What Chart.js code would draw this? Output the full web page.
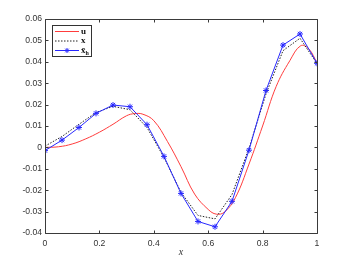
<!DOCTYPE html>
<html>
<head>
<meta charset="utf-8">
<script src="https://cdn.jsdelivr.net/npm/chart.js@4.4.0/dist/chart.umd.min.js"></script>
<style>
html,body{margin:0;padding:0;background:#fff;}
#wrap{width:350px;height:263px;position:relative;}
</style>
</head>
<body>
<div id="wrap"><canvas id="c" width="350" height="263"></canvas></div>
<script>
// ---- data ----
const gridX = [0, 0.0625, 0.125, 0.1875, 0.25, 0.3125, 0.375, 0.4375, 0.5, 0.5625, 0.625, 0.6875, 0.75, 0.8125, 0.875, 0.9375, 1];
const xhValues = [-0.0015, 0.0034, 0.0093, 0.0159, 0.0198, 0.0190, 0.0106, -0.0042, -0.0215, -0.0346, -0.0371, -0.0252, -0.0013, 0.0266, 0.0478, 0.0530, 0.0393];
const xValues = [0.0006, 0.0051, 0.0108, 0.0163, 0.0192, 0.0176, 0.0093, -0.0047, -0.0210, -0.0318, -0.0334, -0.0220, -0.0004, 0.0250, 0.0452, 0.0510, 0.0392];
const uX = [0, 0.05, 0.1, 0.15, 0.2, 0.25, 0.3, 0.33, 0.36, 0.4, 0.45, 0.5, 0.55, 0.6, 0.63, 0.66, 0.7, 0.75, 0.8, 0.85, 0.9, 0.94, 0.97, 1];
const uValues = [0, 0.0003, 0.0016, 0.0040, 0.0071, 0.0108, 0.0148, 0.0158, 0.0155, 0.0125, 0.0028, -0.0090, -0.0218, -0.0290, -0.0312, -0.0302, -0.0235, -0.0078, 0.0100, 0.0285, 0.0405, 0.0475, 0.0460, 0.0395];
const xTickValues = [0, 0.2, 0.4, 0.6, 0.8, 1];
const xTickLabels = ['0', '0.2', '0.4', '0.6', '0.8', '1'];
const yTickValues = [-0.04, -0.03, -0.02, -0.01, 0, 0.01, 0.02, 0.03, 0.04, 0.05, 0.06];
const yTickLabels = ['-0.04', '-0.03', '-0.02', '-0.01', '0', '0.01', '0.02', '0.03', '0.04', '0.05', '0.06'];
const legendLabels = ['u', 'x', 'x\u0304'];
const xAxisTitle = 'x';

const zip = (xs, ys) => xs.map((x, i) => ({x: x, y: ys[i]}));

const AXIS_COLOR = '#3a3a3a';
const RED = 'rgb(255,60,60)';
const BLUE = 'rgb(40,40,255)';
const BLACK = '#222';

const boxTicksPlugin = {
  id: 'boxTicks',
  afterDatasetsDraw(chart) {
    const ctx = chart.ctx, a = chart.chartArea;
    const xs = chart.scales.x, ys = chart.scales.y;
    ctx.save();
    ctx.strokeStyle = AXIS_COLOR;
    ctx.lineWidth = 1;
    const L = Math.round(a.left) + 0.5, R = Math.round(a.right) + 0.5;
    const T = Math.round(a.top) + 0.5, B = Math.round(a.bottom) + 0.5;
    ctx.beginPath();
    ctx.rect(L, T, R - L, B - T);
    ctx.stroke();
    const tl = 3;
    ctx.beginPath();
    xTickValues.forEach(v => {
      const px = Math.round(xs.getPixelForValue(v)) + 0.5;
      ctx.moveTo(px, B); ctx.lineTo(px, B - tl);
      ctx.moveTo(px, T); ctx.lineTo(px, T + tl);
    });
    yTickValues.forEach(v => {
      const py = Math.round(ys.getPixelForValue(v)) + 0.5;
      ctx.moveTo(L, py); ctx.lineTo(L + tl, py);
      ctx.moveTo(R, py); ctx.lineTo(R - tl, py);
    });
    ctx.stroke();

    // legend
    const lx = 52.5, ly = 25.5, lw = 39, lh = 31;
    ctx.fillStyle = '#fff';
    ctx.fillRect(lx, ly, lw, lh);
    ctx.strokeStyle = '#333';
    ctx.strokeRect(lx, ly, lw, lh);
    const rows = [31.5, 41, 50.5];
    const styles = [
      {c: RED, dash: []},
      {c: BLACK, dash: [1.5, 1.5]},
      {c: BLUE, dash: [], marker: true}
    ];
    rows.forEach((y, i) => {
      const s = styles[i];
      ctx.strokeStyle = s.c;
      ctx.setLineDash(s.dash);
      ctx.beginPath();
      ctx.moveTo(55, y); ctx.lineTo(79, y);
      ctx.stroke();
      ctx.setLineDash([]);
      if (s.marker) {
        const cx = 67, r = 2.5;
        ctx.beginPath();
        ctx.moveTo(cx - r, y); ctx.lineTo(cx + r, y);
        ctx.moveTo(cx, y - r); ctx.lineTo(cx, y + r);
        const d = r * 0.72;
        ctx.moveTo(cx - d, y - d); ctx.lineTo(cx + d, y + d);
        ctx.moveTo(cx - d, y + d); ctx.lineTo(cx + d, y - d);
        ctx.stroke();
      }
      ctx.fillStyle = '#111';
      ctx.font = 'bold 9px "Liberation Serif", serif';
      ctx.textBaseline = 'middle';
      ctx.textAlign = 'left';
      ctx.fillText(legendLabels[i], 81, y);
      if (i === 2) {
        const w = ctx.measureText(legendLabels[i]).width;
        ctx.font = 'bold 6px "Liberation Serif", serif';
        ctx.fillText('h', 81 + w, y + 2.5);
      }
    });
    ctx.restore();
  }
};

new Chart(document.getElementById('c'), {
  type: 'scatter',
  data: {
    datasets: [
      {
        label: 'u', data: zip(uX, uValues), showLine: true,
        borderColor: RED, borderWidth: 1, pointRadius: 0,
        tension: 0.4, order: 3
      },
      {
        label: 'x', data: zip(gridX, xValues), showLine: true,
        borderColor: BLACK, borderWidth: 1, borderDash: [1.5, 1.5], pointRadius: 0,
        tension: 0, order: 2
      },
      {
        label: 'xh', data: zip(gridX, xhValues), showLine: true,
        borderColor: BLUE, borderWidth: 1, pointStyle: 'star', pointRadius: 3,
        pointBorderColor: BLUE, pointBackgroundColor: BLUE, pointBorderWidth: 1,
        tension: 0, order: 1
      }
    ]
  },
  options: {
    responsive: false,
    animation: false,
    devicePixelRatio: 1,
    layout: {padding: {top: 19, right: 33, left: 0, bottom: 0}},
    plugins: {legend: {display: false}, tooltip: {enabled: false}},
    scales: {
      x: {
        type: 'linear', min: 0, max: 1,
        afterBuildTicks: s => { s.ticks = xTickValues.map(v => ({value: v})); },
        afterFit: s => { s.height = 30; },
        grid: {display: false, drawTicks: false},
        border: {display: false},
        ticks: {
          padding: 5, color: '#333', maxRotation: 0, autoSkip: false,
          font: {family: '"Liberation Sans", Arial, sans-serif', size: 8.6},
          callback: (v, i) => xTickLabels[i]
        },
        title: {
          display: true, text: xAxisTitle, color: '#333',
          font: {family: '"Liberation Serif", serif', size: 10, style: 'italic'},
          padding: {top: 0, bottom: 5}
        }
      },
      y: {
        type: 'linear', min: -0.04, max: 0.06,
        afterBuildTicks: s => { s.ticks = yTickValues.map(v => ({value: v})); },
        afterFit: s => { s.width = 45; },
        grid: {display: false, drawTicks: false},
        border: {display: false},
        ticks: {
          padding: 3, color: '#333', autoSkip: false,
          font: {family: '"Liberation Sans", Arial, sans-serif', size: 8.6},
          callback: (v, i) => yTickLabels[i]
        }
      }
    }
  },
  plugins: [boxTicksPlugin]
});
</script>
</body>
</html>
